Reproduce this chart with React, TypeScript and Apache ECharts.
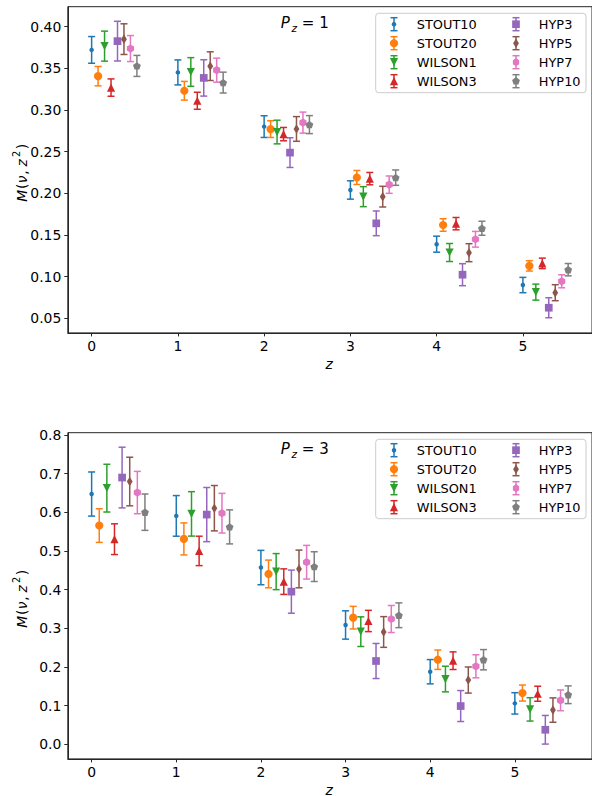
import React, { useEffect, useRef } from 'react';
import * as echarts from 'echarts';

// ---------------- data ----------------
const Z_VALUES = [0, 1, 2, 3, 4, 5];
const SERIES_NAMES = ['STOUT10', 'STOUT20', 'WILSON1', 'WILSON3', 'HYP3', 'HYP5', 'HYP7', 'HYP10'];
const X_TICKS = [0, 1, 2, 3, 4, 5];
const Y_TICKS_PZ1 = [0.05, 0.1, 0.15, 0.2, 0.25, 0.3, 0.35, 0.4];
const Y_TICKS_PZ3 = [0.0, 0.1, 0.2, 0.3, 0.4, 0.5, 0.6, 0.7, 0.8];
const SHIFT_PZ1 = 0.075;
const SHIFT_PZ3 = 0.09;

// P_z = 1
const PZ1_STOUT10 = [0.372, 0.345, 0.28, 0.204, 0.139, 0.09];
const PZ1_STOUT10_ERR = [0.016, 0.015, 0.013, 0.011, 0.0096, 0.0092];
const PZ1_STOUT20 = [0.3405, 0.323, 0.277, 0.219, 0.162, 0.113];
const PZ1_STOUT20_ERR = [0.0116, 0.0112, 0.01, 0.0084, 0.0075, 0.0062];
const PZ1_WILSON1 = [0.3765, 0.3455, 0.2735, 0.196, 0.129, 0.0815];
const PZ1_WILSON1_ERR = [0.018, 0.0172, 0.0142, 0.012, 0.0108, 0.0096];
const PZ1_WILSON3 = [0.3268, 0.311, 0.271, 0.2176, 0.1636, 0.116];
const PZ1_WILSON3_ERR = [0.0104, 0.0102, 0.008, 0.0074, 0.0074, 0.0063];
const PZ1_HYP3 = [0.3825, 0.3384, 0.2488, 0.164, 0.1024, 0.0628];
const PZ1_HYP3_ERR = [0.0238, 0.0218, 0.0178, 0.0148, 0.0132, 0.012];
const PZ1_HYP5 = [0.3849, 0.3525, 0.2772, 0.196, 0.1288, 0.0808];
const PZ1_HYP5_ERR = [0.0184, 0.0172, 0.0148, 0.0124, 0.0108, 0.0096];
const PZ1_HYP7 = [0.3736, 0.3477, 0.2848, 0.2104, 0.1449, 0.0945];
const PZ1_HYP7_ERR = [0.0156, 0.0144, 0.0126, 0.0104, 0.0094, 0.0078];
const PZ1_HYP10 = [0.3528, 0.3328, 0.2824, 0.2188, 0.1581, 0.1084];
const PZ1_HYP10_ERR = [0.0126, 0.0125, 0.0108, 0.0092, 0.0084, 0.0074];

// P_z = 3
const PZ3_STOUT10 = [0.647, 0.5905, 0.457, 0.3086, 0.1878, 0.106];
const PZ3_STOUT10_ERR = [0.057, 0.0525, 0.0444, 0.0366, 0.0314, 0.0276];
const PZ3_STOUT20 = [0.5655, 0.531, 0.4405, 0.3275, 0.2188, 0.1327];
const PZ3_STOUT20_ERR = [0.0435, 0.0414, 0.0358, 0.0292, 0.025, 0.0207];
const PZ3_WILSON1 = [0.6622, 0.5957, 0.4465, 0.2913, 0.1689, 0.0905];
const PZ3_WILSON1_ERR = [0.0617, 0.0574, 0.0466, 0.0383, 0.0331, 0.0302];
const PZ3_WILSON3 = [0.5303, 0.5, 0.4206, 0.3189, 0.2163, 0.1309];
const PZ3_WILSON3_ERR = [0.0397, 0.038, 0.033, 0.0275, 0.0228, 0.0194];
const PZ3_HYP3 = [0.6896, 0.5939, 0.3947, 0.2155, 0.0991, 0.0378];
const PZ3_HYP3_ERR = [0.0784, 0.07, 0.0557, 0.0453, 0.04, 0.037];
const PZ3_HYP5 = [0.6793, 0.6104, 0.4534, 0.2905, 0.1663, 0.0887];
const PZ3_HYP5_ERR = [0.0628, 0.0586, 0.0487, 0.0397, 0.0337, 0.0315];
const PZ3_HYP7 = [0.6508, 0.5975, 0.4708, 0.3241, 0.2018, 0.1138];
const PZ3_HYP7_ERR = [0.0547, 0.0512, 0.0435, 0.0349, 0.0298, 0.0268];
const PZ3_HYP10 = [0.6001, 0.5621, 0.4594, 0.3337, 0.2188, 0.1283];
const PZ3_HYP10_ERR = [0.047, 0.044, 0.0384, 0.032, 0.0262, 0.0229];

const PZ1_VALUES = [PZ1_STOUT10, PZ1_STOUT20, PZ1_WILSON1, PZ1_WILSON3, PZ1_HYP3, PZ1_HYP5, PZ1_HYP7, PZ1_HYP10];
const PZ1_ERRORS = [PZ1_STOUT10_ERR, PZ1_STOUT20_ERR, PZ1_WILSON1_ERR, PZ1_WILSON3_ERR, PZ1_HYP3_ERR, PZ1_HYP5_ERR, PZ1_HYP7_ERR, PZ1_HYP10_ERR];
const PZ3_VALUES = [PZ3_STOUT10, PZ3_STOUT20, PZ3_WILSON1, PZ3_WILSON3, PZ3_HYP3, PZ3_HYP5, PZ3_HYP7, PZ3_HYP10];
const PZ3_ERRORS = [PZ3_STOUT10_ERR, PZ3_STOUT20_ERR, PZ3_WILSON1_ERR, PZ3_WILSON3_ERR, PZ3_HYP3_ERR, PZ3_HYP5_ERR, PZ3_HYP7_ERR, PZ3_HYP10_ERR];

// ---------------- styles ----------------
const COLORS = ['#1f77b4', '#ff7f0e', '#2ca02c', '#d62728', '#9467bd', '#8c564b', '#e377c2', '#7f7f7f'];
const MARKERS = ['point', 'circle', 'tridown', 'triup', 'square', 'thindiamond', 'hexagon', 'pentagon'];
const FONT = 'DejaVu Sans';
const AXIS_COLOR = '#262626';

const HEX_PATH = 'path://M0,-1L0.866,-0.5L0.866,0.5L0,1L-0.866,0.5L-0.866,-0.5Z';
const PENT_PATH = 'path://M0,-1L0.951,-0.309L0.588,0.809L-0.588,0.809L-0.951,-0.309Z';

function symbolFor(kind: string) {
  switch (kind) {
    case 'point': return { symbol: 'circle', symbolSize: 4.5, symbolRotate: 0 };
    case 'circle': return { symbol: 'circle', symbolSize: 8.2, symbolRotate: 0 };
    case 'tridown': return { symbol: 'triangle', symbolSize: 8.2, symbolRotate: 180 };
    case 'triup': return { symbol: 'triangle', symbolSize: 8.2, symbolRotate: 0 };
    case 'square': return { symbol: 'rect', symbolSize: 7.7, symbolRotate: 0 };
    case 'thindiamond': return { symbol: 'diamond', symbolSize: [5.8, 9.6], symbolRotate: 0 };
    case 'hexagon': return { symbol: HEX_PATH, symbolSize: [7.2, 8.2], symbolRotate: 0 };
    default: return { symbol: PENT_PATH, symbolSize: [7.8, 7.4], symbolRotate: 0 };
  }
}

function markerGraphic(kind: string, cx: number, cy: number, color: string, z: number): any {
  const style = { fill: color };
  const poly = (pts: number[][]) => ({ type: 'polygon', z, shape: { points: pts.map(([x, y]) => [cx + x, cy + y]) }, style });
  switch (kind) {
    case 'point': return { type: 'circle', z, shape: { cx, cy, r: 2.25 }, style };
    case 'circle': return { type: 'circle', z, shape: { cx, cy, r: 4.1 }, style };
    case 'tridown': return poly([[-4.1, -4.1], [4.1, -4.1], [0, 4.1]]);
    case 'triup': return poly([[0, -4.1], [4.1, 4.1], [-4.1, 4.1]]);
    case 'square': return poly([[-3.85, -3.85], [3.85, -3.85], [3.85, 3.85], [-3.85, 3.85]]);
    case 'thindiamond': return poly([[0, -4.8], [2.9, 0], [0, 4.8], [-2.9, 0]]);
    case 'hexagon': {
      const r = 4.1;
      return poly([0, 1, 2, 3, 4, 5].map(k => { const a = -Math.PI / 2 + k * Math.PI / 3; return [r * Math.cos(a) * 0.88, r * Math.sin(a)]; }));
    }
    default: {
      const r = 4.1;
      return poly([0, 1, 2, 3, 4].map(k => { const a = -Math.PI / 2 + k * 2 * Math.PI / 5; return [r * Math.cos(a), r * Math.sin(a)]; }));
    }
  }
}

// ---------------- layout ----------------
const GRID_LEFT = 67.8;
const GRID_WIDTH = 524.5;
const GRID_HEIGHT = 326.2;
const PANEL_DY = 426;
const GRID_TOPS = [6.7, 6.7 + PANEL_DY];

const PANELS = [
  { label: '1', values: PZ1_VALUES, errors: PZ1_ERRORS, shift: SHIFT_PZ1, xMin: -0.27625, xMax: 5.80125, yMin: 0.0326, yMax: 0.4238, yTicks: Y_TICKS_PZ1, digits: 2 },
  { label: '3', values: PZ3_VALUES, errors: PZ3_ERRORS, shift: SHIFT_PZ3, xMin: -0.2815, xMax: 5.9115, yMin: -0.0375, yMax: 0.8055, yTicks: Y_TICKS_PZ3, digits: 1 },
];

function buildOption() {
  const grid: any[] = [];
  const xAxis: any[] = [];
  const yAxis: any[] = [];
  const series: any[] = [];
  const graphic: any[] = [];

  PANELS.forEach((panel, p) => {
    const top = GRID_TOPS[p];
    const dy = p * PANEL_DY;
    grid.push({ left: GRID_LEFT, top, width: GRID_WIDTH, height: GRID_HEIGHT, show: true, borderColor: AXIS_COLOR, borderWidth: 1, backgroundColor: 'transparent' });
    xAxis.push({
      gridIndex: p, type: 'value', min: panel.xMin, max: panel.xMax,
      axisLine: { show: true, onZero: false, lineStyle: { color: AXIS_COLOR, width: 1 } },
      axisTick: { show: true, length: 3.5, customValues: X_TICKS, lineStyle: { color: AXIS_COLOR, width: 1 } },
      axisLabel: { customValues: X_TICKS, margin: 6.5, color: '#000', fontSize: 13.9, fontFamily: FONT, formatter: (v: number) => String(Math.round(v)) },
      splitLine: { show: false },
    });
    yAxis.push({
      gridIndex: p, type: 'value', min: panel.yMin, max: panel.yMax,
      axisLine: { show: true, onZero: false, lineStyle: { color: AXIS_COLOR, width: 1 } },
      axisTick: { show: true, length: 3.5, customValues: panel.yTicks, lineStyle: { color: AXIS_COLOR, width: 1 } },
      axisLabel: { customValues: panel.yTicks, margin: 6.5, color: '#000', fontSize: 13.9, fontFamily: FONT, formatter: (v: number) => v.toFixed(panel.digits) },
      splitLine: { show: false },
    });

    SERIES_NAMES.forEach((name, i) => {
      const color = COLORS[i];
      const xs = Z_VALUES.map(z => z + i * panel.shift);
      const errData = xs.map((x, k) => [x, panel.values[i][k], panel.errors[i][k]]);
      const ptData = xs.map((x, k) => [x, panel.values[i][k]]);
      series.push({
        type: 'custom', name, xAxisIndex: p, yAxisIndex: p, z: 2, silent: true, clip: false,
        encode: { x: 0, y: 1 },
        itemStyle: { color },
        data: errData,
        renderItem: (params: any, api: any) => {
          const x = api.value(0), y = api.value(1), e = api.value(2);
          const a = api.coord([x, y + e]);
          const b = api.coord([x, y - e]);
          const st = { stroke: color, lineWidth: 1.5 };
          const cw = 3.5;
          return {
            type: 'group', children: [
              { type: 'line', shape: { x1: a[0], y1: a[1], x2: b[0], y2: b[1] }, style: st },
              { type: 'line', shape: { x1: a[0] - cw, y1: a[1], x2: a[0] + cw, y2: a[1] }, style: st },
              { type: 'line', shape: { x1: b[0] - cw, y1: b[1], x2: b[0] + cw, y2: b[1] }, style: st },
            ],
          };
        },
      });
      const sym = symbolFor(MARKERS[i]);
      series.push({
        type: 'scatter', name, xAxisIndex: p, yAxisIndex: p, z: 3, silent: true,
        symbol: sym.symbol, symbolSize: sym.symbolSize, symbolRotate: sym.symbolRotate, symbolKeepAspect: false,
        itemStyle: { color, opacity: 1 },
        data: ptData,
      });
    });

    // title P_z = n
    const ty = 23.2 + dy;
    graphic.push({ type: 'text', x: 280.8, y: ty, style: { text: 'P', fontFamily: FONT, fontStyle: 'italic', fontSize: 15, fill: '#000', verticalAlign: 'middle', align: 'left' } });
    graphic.push({ type: 'text', x: 291.6, y: ty + 5, style: { text: 'z', fontFamily: FONT, fontStyle: 'italic', fontSize: 10.5, fill: '#000', verticalAlign: 'middle', align: 'left' } });
    graphic.push({ type: 'text', x: 301.8, y: ty, style: { text: '= ' + panel.label, fontFamily: FONT, fontSize: 15, fill: '#000', verticalAlign: 'middle', align: 'left' } });

    // x label
    graphic.push({ type: 'text', x: GRID_LEFT + GRID_WIDTH / 2 - 1, y: 363.5 + dy, style: { text: 'z', fontFamily: FONT, fontStyle: 'italic', fontSize: 13.9, fill: '#000', verticalAlign: 'middle', align: 'center' } });

    // y label: M(ν, z²), rotated, glyphs placed along the label
    const it = (text: string, x: number) => ({ type: 'text', x, y: 0, style: { text, fontFamily: FONT, fontStyle: 'italic', fontSize: 13.9, fill: '#000', verticalAlign: 'middle', align: 'left' } });
    const up = (text: string, x: number) => ({ type: 'text', x, y: 0, style: { text, fontFamily: FONT, fontSize: 13.9, fill: '#000', verticalAlign: 'middle', align: 'left' } });
    graphic.push({
      type: 'group', x: 21.5, y: 169.7 + dy, rotation: Math.PI / 2,
      children: [
        it('M', -32),
        up('(', -19.3),
        it('ν', -13.6),
        up(',', -5),
        it('z', 3.2),
        { type: 'text', x: 12.8, y: -5.2, style: { text: '2', fontFamily: FONT, fontSize: 9.8, fill: '#000', verticalAlign: 'middle', align: 'left' } },
        up(')', 20.5),
      ],
    });

    // legend
    const legendChildren: any[] = [];
    legendChildren.push({ type: 'rect', z: 20, shape: { x: 375.7, y: 13.3 + dy, width: 210.3, height: 79.4, r: 3 }, style: { fill: 'rgba(255,255,255,0.8)', stroke: '#cccccc', lineWidth: 1 } });
    SERIES_NAMES.forEach((name, i) => {
      const col = Math.floor(i / 4);
      const row = i % 4;
      const cx = [394, 516][col];
      const cy = 24.2 + row * 19 + dy;
      const color = COLORS[i];
      const st = { stroke: color, lineWidth: 1.5 };
      legendChildren.push(
        { type: 'line', z: 21, shape: { x1: cx, y1: cy - 6.5, x2: cx, y2: cy + 6.5 }, style: st },
        { type: 'line', z: 21, shape: { x1: cx - 3.5, y1: cy - 6.5, x2: cx + 3.5, y2: cy - 6.5 }, style: st },
        { type: 'line', z: 21, shape: { x1: cx - 3.5, y1: cy + 6.5, x2: cx + 3.5, y2: cy + 6.5 }, style: st },
        markerGraphic(MARKERS[i], cx, cy, color, 22),
        { type: 'text', z: 22, x: [416.8, 538.8][col], y: cy, style: { text: name, fontFamily: FONT, fontSize: 12.9, fill: '#000', verticalAlign: 'middle', align: 'left' } },
      );
    });
    legendChildren.forEach(el => graphic.push(el));
  });

  return { animation: false, grid, xAxis, yAxis, series, graphic };
}

export default function App() {
  const ref = useRef<HTMLDivElement>(null);
  useEffect(() => {
    if (!ref.current) return;
    const chart = echarts.init(ref.current, null, { renderer: 'svg' });
    chart.setOption(buildOption() as any);
    return () => chart.dispose();
  }, []);
  return <div ref={ref} style={{ position: 'absolute', left: 0, top: 0, width: 592, height: 796, background: '#fff' }} />;
}
